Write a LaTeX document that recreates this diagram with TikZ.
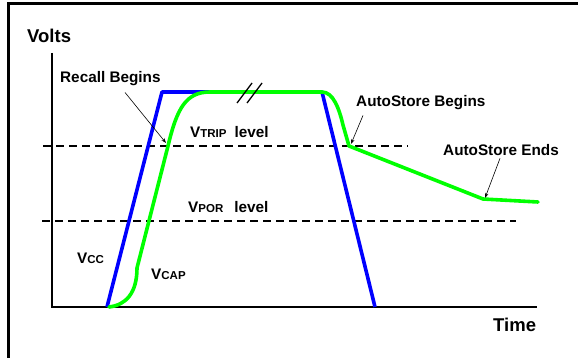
\documentclass[tikz,border=0pt]{standalone}
\usepackage{fontspec}
\setmainfont{Liberation Sans}
\usetikzlibrary{arrows.meta}
\newcommand{\smallsub}[1]{{\fontsize{11.5}{12}\selectfont #1}}
\tikzset{
  lbl/.style={font=\fontsize{15.3}{17}\selectfont\bfseries, inner sep=0pt, anchor=base west},
  biglbl/.style={font=\fontsize{18.5}{20}\selectfont\bfseries, inner sep=0pt, anchor=base west},
  leader/.style={black, line width=0.6pt, -{Stealth[length=5pt,width=3.5pt]}},
  vccline/.style={blue, line width=3.6pt, line join=round},
  vcapline/.style={green, line width=3.6pt, line join=round, line cap=round},
  levelline/.style={dash pattern=on 8pt off 5pt, line width=1.6pt}
}
\begin{document}
\begin{tikzpicture}[x=1pt,y=-1pt]
\useasboundingbox (0,0) rectangle (578,358);
% frame
\draw[line width=3pt] (8,358) -- (8,3.5) -- (578,3.5);

% axes
\draw[line width=2pt] (52,53) -- (52,307) -- (537,307);
\node[biglbl] (volts) at (27,43) {Volts};
\node[biglbl] (time) at (493,331) {Time};

% levels
\draw[levelline] (43,146) -- (408,146);
\draw[levelline] (42,221) -- (516,221);
\node[lbl] (vtrip) at (190,138) {V\smallsub{TRIP}\hspace{8pt}level};
\node[lbl] (vpor) at (188,213) {V\smallsub{POR}\hspace{11pt}level};

% Vcc and Vcap
\draw[vccline] (107,307) -- (162,92) -- (322,92) -- (375,307);
\draw[vcapline] (109,307) .. controls (126,305) and (137,293) .. (137,268)
  -- (168,146) .. controls (177,108) and (186,92) .. (210,92)
  -- (322,92) .. controls (333,92) and (339,108) .. (343,125)
  -- (349,146) -- (483,199) -- (538,202);
\node[lbl] (vcc) at (77,263) {V\smallsub{CC}};
\node[lbl] (vcap) at (151,279) {V\smallsub{CAP}};

% break mark
\draw[line width=1.3pt] (237,103) -- (252,83);
\draw[line width=1.3pt] (247,103) -- (262,83);

% annotations
\node[lbl] (recall) at (60,83) {Recall Begins};
\node[lbl] (asbegin) at (356,107) {AutoStore Begins};
\node[lbl] (asend) at (443,156) {AutoStore Ends};
\coordinate (recalltip) at (166,143);
\coordinate (asbegintip) at (351,144);
\coordinate (asendtip) at (485,198);
\draw[leader] ([xshift=65pt,yshift=-6pt]recall.south west) -- (recalltip);
\draw[leader] ([xshift=7pt,yshift=-5pt]asbegin.south west) -- (asbegintip);
\draw[leader] ([xshift=57pt,yshift=-2pt]asend.south west) -- (asendtip);
\end{tikzpicture}
\end{document}
